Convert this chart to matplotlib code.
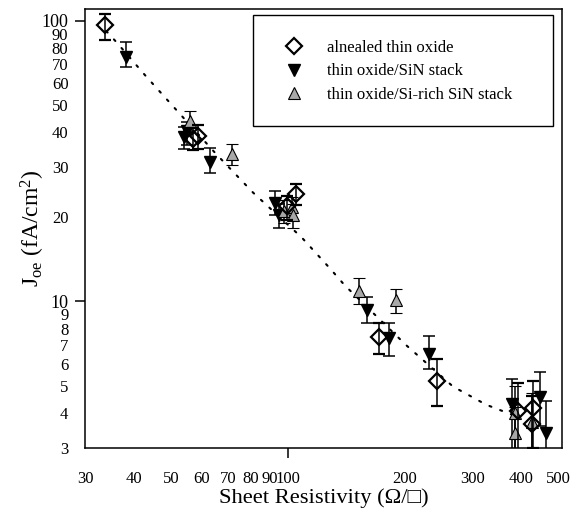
import matplotlib
matplotlib.use("Agg")
import matplotlib.pyplot as plt
from matplotlib.lines import Line2D
from matplotlib.patches import Rectangle
from matplotlib.ticker import FixedLocator, FixedFormatter

plt.rcParams['font.family'] = ['Liberation Serif', 'DejaVu Serif']
plt.rcParams['mathtext.fontset'] = 'custom'
plt.rcParams['mathtext.rm'] = 'Liberation Serif'
plt.rcParams['mathtext.it'] = 'Liberation Serif:italic'

# --- data -------------------------------------------------------------
ox_x = [33.8, 57.0, 58.5, 99.5, 105, 172, 242, 393, 429, 427]
ox_y = [96.5, 38.0, 38.8, 21.8, 24.2, 7.45, 5.2, 4.05, 4.15, 3.65]
ox_lo = [85.7, 34.5, 35.0, 19.5, 22.0, 6.5, 4.25, 2.9, 3.0, 2.9]
ox_hi = [106, 41.5, 42.5, 23.8, 26.3, 8.4, 6.25, 5.1, 5.2, 4.6]

sin_x = [38.2, 55, 54, 63, 92.5, 95, 160, 182.5, 231.5, 379, 448, 465]
sin_y = [74.6, 40.5, 38.5, 31.4, 22.5, 20.3, 9.3, 7.4, 6.5, 4.3, 4.55, 3.4]
sin_lo = [68.7, 36, 35, 28.7, 20.3, 18.3, 8.4, 6.4, 5.75, 2.8, 3.6, 2.7]
sin_hi = [83.9, 43.5, 42, 35.3, 24.8, 22.3, 10.4, 8.4, 7.5, 5.3, 5.6, 4.4]

sir_x = [56, 72, 98, 102.5, 103, 152.5, 190.7, 385, 386, 427]
sir_y = [44, 33.4, 21.0, 21.7, 20.3, 10.9, 10.1, 4.0, 3.4, 3.7]
sir_lo = [40, 30.6, 19.0, 19.5, 18.3, 9.8, 9.1, 2.9, 2.8, 2.8]
sir_hi = [47.8, 36.5, 23.0, 23.5, 22.3, 12.1, 11.1, 5.0, 4.2, 4.7]

fit_x = [34, 36.2, 43.0, 50.7, 65.1, 81.4, 108.6, 128.5, 140.3, 202, 266.8, 325, 358.7, 378]
fit_y = [92, 83.7, 63.6, 49.4, 33.7, 24.4, 16.9, 13.1, 11.4, 6.98, 4.97, 4.28, 4.06, 3.95]

labels = ['alnealed thin oxide', 'thin oxide/SiN stack', 'thin oxide/Si-rich SiN stack']

x_ticks = [30, 40, 50, 60, 70, 80, 90, 100, 200, 300, 400, 500]
y_ticks = [3, 4, 5, 6, 7, 8, 9, 10, 20, 30, 40, 50, 60, 70, 80, 90, 100]

# --- figure -----------------------------------------------------------
fig = plt.figure(figsize=(5.83, 5.12), dpi=100)
ax = fig.add_axes([0.146, 0.125, 0.818, 0.857])
ax.set_xscale('log')
ax.set_yscale('log')
ax.set_xlim(30, 510)
ax.set_ylim(3, 110)

ax.plot(fit_x, fit_y, color='black', linestyle=(0, (1, 4.5)), linewidth=1.5,
        dash_capstyle='round', zorder=1)

def errs(y, lo, hi):
    return [[a - b for a, b in zip(y, lo)], [c - a for a, c in zip(y, hi)]]

ekw = dict(ecolor='black', elinewidth=1.1, capsize=4, capthick=1.1, linestyle='none')

ax.errorbar(sin_x, sin_y, yerr=errs(sin_y, sin_lo, sin_hi), marker='v', markersize=9,
            markerfacecolor='black', markeredgecolor='black', zorder=3, **ekw)
ax.errorbar(sir_x, sir_y, yerr=errs(sir_y, sir_lo, sir_hi), marker='^', markersize=9,
            markerfacecolor='#a8a8a8', markeredgecolor='black', markeredgewidth=0.8,
            zorder=4, **ekw)
ax.errorbar(ox_x, ox_y, yerr=errs(ox_y, ox_lo, ox_hi), marker='D', markersize=8,
            markerfacecolor='none', markeredgecolor='black', markeredgewidth=1.6,
            zorder=5, **ekw)

# ticks
ax.xaxis.set_major_locator(FixedLocator([100]))
ax.xaxis.set_major_formatter(FixedFormatter(['100']))
ax.xaxis.set_minor_locator(FixedLocator([t for t in x_ticks if t != 100]))
ax.xaxis.set_minor_formatter(FixedFormatter([str(t) for t in x_ticks if t != 100]))
ax.yaxis.set_major_locator(FixedLocator([10, 100]))
ax.yaxis.set_major_formatter(FixedFormatter(['10', '100']))
ax.yaxis.set_minor_locator(FixedLocator([t for t in y_ticks if t not in (10, 100)]))
ax.yaxis.set_minor_formatter(FixedFormatter([str(t) for t in y_ticks if t not in (10, 100)]))

ax.tick_params(axis='x', which='major', direction='out', length=7, width=1.1, pad=9.5, labelsize=12)
ax.tick_params(axis='x', which='minor', length=0, pad=16.5, labelsize=12)
ax.tick_params(axis='y', which='major', direction='out', length=7, width=1.1, pad=5, labelsize=13)
ax.tick_params(axis='y', which='minor', length=0, pad=12, labelsize=12)
ax.tick_params(top=False, right=False, which='both')

for s in ax.spines.values():
    s.set_linewidth(1.1)

ax.set_xlabel('Sheet Resistivity (\u03a9/\u25a1)', fontsize=16.2, labelpad=1)
ax.set_ylabel(r'J$_{\rm oe}$ (fA/cm$^{2}$)', fontsize=17, labelpad=-4)

# legend with custom frame
ax.add_patch(Rectangle((0.352, 0.733), 0.629, 0.253, transform=ax.transAxes,
                       fill=False, edgecolor='black', linewidth=1.0, zorder=6))
handles = [
    Line2D([], [], linestyle='none', marker='D', markersize=8, markerfacecolor='none',
           markeredgecolor='black', markeredgewidth=1.6),
    Line2D([], [], linestyle='none', marker='v', markersize=9, markerfacecolor='black',
           markeredgecolor='black'),
    Line2D([], [], linestyle='none', marker='^', markersize=9, markerfacecolor='#a8a8a8',
           markeredgecolor='black', markeredgewidth=0.8),
]
leg = ax.legend(handles, labels, loc='upper left', bbox_to_anchor=(0.42, 0.93),
                frameon=False, fontsize=12, handlelength=1.0, handletextpad=1.5,
                labelspacing=0.45, borderpad=0.0, borderaxespad=0.0)

fig.savefig('out.png', dpi=100)
